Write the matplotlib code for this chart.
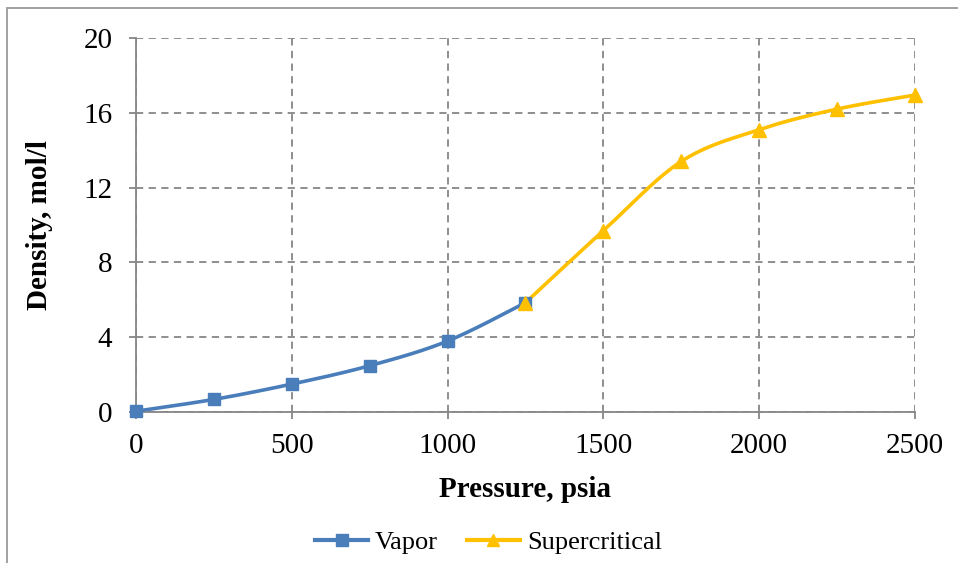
import numpy as np
import matplotlib
matplotlib.use("Agg")
import matplotlib.pyplot as plt
from matplotlib.patches import Rectangle
from matplotlib.lines import Line2D

vapor_p = [0, 250, 500, 750, 1000, 1250]
vapor_d = [0.05, 0.68, 1.5, 2.48, 3.8, 5.85]
super_p = [1250, 1500, 1750, 2000, 2250, 2500]
super_d = [5.85, 9.7, 13.4, 15.1, 16.2, 16.95]
x_ticks = [0, 500, 1000, 1500, 2000, 2500]
y_ticks = [0, 4, 8, 12, 16, 20]


def smooth(xs, ys, n=30):
    x = np.asarray(xs, float)
    y = np.asarray(ys, float)
    pts = np.column_stack([x, y])
    out = []
    for i in range(len(pts) - 1):
        p0 = pts[i - 1] if i > 0 else pts[i]
        p1 = pts[i]
        p2 = pts[i + 1]
        p3 = pts[i + 2] if i + 2 < len(pts) else pts[i + 1]
        c1 = p1 + (p2 - p0) / 6.0
        c2 = p2 - (p3 - p1) / 6.0
        t = np.linspace(0, 1, n)[:, None]
        seg = ((1 - t) ** 3) * p1 + 3 * ((1 - t) ** 2) * t * c1 + 3 * (1 - t) * t ** 2 * c2 + t ** 3 * p2
        out.append(seg if i == 0 else seg[1:])
    s = np.vstack(out)
    return s[:, 0], s[:, 1]


plt.rcParams['font.family'] = ['Liberation Serif', 'DejaVu Serif']

fig = plt.figure(figsize=(9.58, 5.63), dpi=100)
ax = fig.add_axes([0.142, 0.268, 0.813, 0.6645])

blue = '#4A7EBB'
gold = '#FFC000'
grid_c = '#868686'

sx, sy = smooth(vapor_p, vapor_d)
ax.plot(sx, sy, color=blue, lw=2.6, solid_capstyle='round', zorder=3, clip_on=False)
ax.plot(vapor_p, vapor_d, ls='none', marker='s', ms=9, color=blue, zorder=4, clip_on=False)

tx, ty = smooth(super_p, super_d)
ax.plot(tx, ty, color=gold, lw=2.6, solid_capstyle='round', zorder=3, clip_on=False)
ax.plot(super_p, super_d, ls='none', marker='^', ms=10, color=gold, zorder=4, clip_on=False)

ax.set_xlim(0, 2500)
ax.set_ylim(0, 20)
ax.set_xticks(x_ticks)
ax.set_yticks(y_ticks)
ax.grid(True, color=grid_c, ls=(0, (4, 3)), lw=1.3)
for s in ['top', 'right']:
    ax.spines[s].set_visible(False)
for s in ['left', 'bottom']:
    ax.spines[s].set_color(grid_c)
    ax.spines[s].set_linewidth(1.3)
ax.tick_params(axis='both', colors=grid_c, labelcolor='black', labelsize=21,
               length=5, width=1.3, direction='out')
ax.tick_params(axis='x', pad=10)
ax.tick_params(axis='y', pad=12)
ax.set_xlabel('Pressure, psia', fontsize=21, fontweight='bold', labelpad=12)
ax.set_ylabel('Density, mol/l', fontsize=21, fontweight='bold', labelpad=22)

handles = [Line2D([], [], color=blue, lw=3, marker='s', ms=8),
           Line2D([], [], color=gold, lw=3, marker='^', ms=9)]
fig.legend(handles, ['Vapor', 'Supercritical'], loc='center', bbox_to_anchor=(0.51, 0.036),
           ncol=2, frameon=False, fontsize=19, handlelength=2.0, columnspacing=1.1,
           handletextpad=0.27)

fig.patches.append(Rectangle((7 / 958, -0.1), 1.2, 1 - 8 / 563 + 0.1, transform=fig.transFigure,
                             fill=False, edgecolor='#9a9a9a', lw=1.3))

fig.savefig('out.png', dpi=100)
